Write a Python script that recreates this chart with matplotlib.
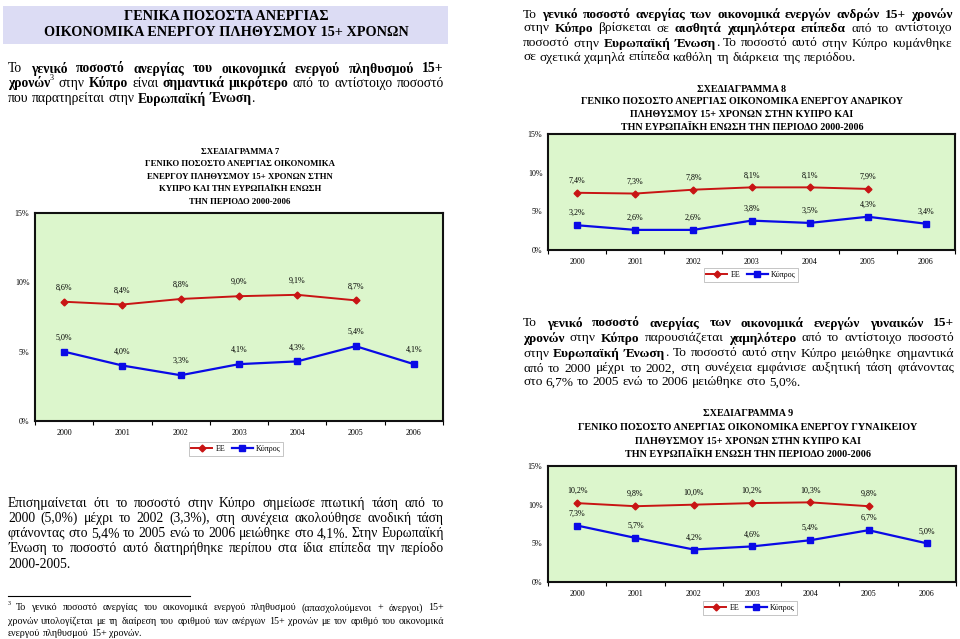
import numpy as np
import matplotlib
matplotlib.use('Agg')
import matplotlib.pyplot as plt
from matplotlib.patches import Rectangle
from matplotlib.lines import Line2D

# ---------------- data ----------------
years = ['2000', '2001', '2002', '2003', '2004', '2005', '2006']
ee_total = [8.6, 8.4, 8.8, 9.0, 9.1, 8.7]
cy_total = [5.0, 4.0, 3.3, 4.1, 4.3, 5.4, 4.1]
ee_men = [7.4, 7.3, 7.8, 8.1, 8.1, 7.9]
cy_men = [3.2, 2.6, 2.6, 3.8, 3.5, 4.3, 3.4]
ee_women = [10.2, 9.8, 10.0, 10.2, 10.3, 9.8]
cy_women = [7.3, 5.7, 4.2, 4.6, 5.4, 6.7, 5.0]
y_ticks = [0, 5, 10, 15]
series_names = ['ΕΕ', 'Κύπρος']

header_lines = ['ΓΕΝΙΚΑ ΠΟΣΟΣΤΑ ΑΝΕΡΓΙΑΣ', 'ΟΙΚΟΝΟΜΙΚΑ ΕΝΕΡΓΟΥ ΠΛΗΘΥΣΜΟΥ 15+ ΧΡΟΝΩΝ']
para_left1 = [
    'Το **γενικό ποσοστό ανεργίας του οικονομικά ενεργού πληθυσμού 15+**',
    '**χρονών**^3 στην **Κύπρο** είναι **σημαντικά μικρότερο** από το αντίστοιχο ποσοστό',
    'που παρατηρείται στην **Ευρωπαϊκή Ένωση**.',
]
title7 = ['ΣΧΕΔΙΑΓΡΑΜΜΑ 7', 'ΓΕΝΙΚΟ ΠΟΣΟΣΤΟ ΑΝΕΡΓΙΑΣ ΟΙΚΟΝΟΜΙΚΑ', 'ΕΝΕΡΓΟΥ ΠΛΗΘΥΣΜΟΥ 15+ ΧΡΟΝΩΝ ΣΤΗΝ',
          'ΚΥΠΡΟ ΚΑΙ ΤΗΝ ΕΥΡΩΠΑΪΚΗ ΕΝΩΣΗ', 'ΤΗΝ ΠΕΡΙΟΔΟ 2000-2006']
para_left2 = [
    'Επισημαίνεται ότι το ποσοστό στην Κύπρο σημείωσε πτωτική τάση από το',
    '2000 (5,0%) μέχρι το 2002 (3,3%), στη συνέχεια ακολούθησε ανοδική τάση',
    'φτάνοντας στο 5,4% το 2005 ενώ το 2006 μειώθηκε στο 4,1%. Στην Ευρωπαϊκή',
    'Ένωση το ποσοστό αυτό διατηρήθηκε περίπου στα ίδια επίπεδα την περίοδο',
    '2000-2005.',
]
footnote = [
    '^3 Το γενικό ποσοστό ανεργίας του οικονομικά ενεργού πληθυσμού (απασχολούμενοι + άνεργοι) 15+',
    'χρονών υπολογίζεται με τη διαίρεση του αριθμού των ανέργων 15+ χρονών με τον αριθμό του οικονομικά',
    'ενεργού πληθυσμού 15+ χρονών.',
]
para_right1 = [
    'Το **γενικό ποσοστό ανεργίας των οικονομικά ενεργών ανδρών 15+ χρονών**',
    'στην **Κύπρο** βρίσκεται σε **αισθητά χαμηλότερα επίπεδα** από το αντίστοιχο',
    'ποσοστό στην **Ευρωπαϊκή Ένωση**. Το ποσοστό αυτό στην Κύπρο κυμάνθηκε',
    'σε σχετικά χαμηλά επίπεδα καθόλη τη διάρκεια της περιόδου.',
]
title8 = ['ΣΧΕΔΙΑΓΡΑΜΜΑ 8', 'ΓΕΝΙΚΟ ΠΟΣΟΣΤΟ ΑΝΕΡΓΙΑΣ ΟΙΚΟΝΟΜΙΚΑ ΕΝΕΡΓΟΥ ΑΝΔΡΙΚΟΥ',
          'ΠΛΗΘΥΣΜΟΥ 15+ ΧΡΟΝΩΝ ΣΤΗΝ ΚΥΠΡΟ ΚΑΙ', 'ΤΗΝ ΕΥΡΩΠΑΪΚΗ ΕΝΩΣΗ ΤΗΝ ΠΕΡΙΟΔΟ 2000-2006']
para_right2 = [
    'Το **γενικό ποσοστό ανεργίας των οικονομικά ενεργών γυναικών 15+**',
    '**χρονών** στην **Κύπρο** παρουσιάζεται **χαμηλότερο** από το αντίστοιχο ποσοστό',
    'στην **Ευρωπαϊκή Ένωση**. Το ποσοστό αυτό στην Κύπρο μειώθηκε σημαντικά',
    'από το 2000 μέχρι το 2002, στη συνέχεια εμφάνισε αυξητική τάση φτάνοντας',
    'στο 6,7% το 2005 ενώ το 2006 μειώθηκε στο 5,0%.',
]
title9 = ['ΣΧΕΔΙΑΓΡΑΜΜΑ 9', 'ΓΕΝΙΚΟ ΠΟΣΟΣΤΟ ΑΝΕΡΓΙΑΣ ΟΙΚΟΝΟΜΙΚΑ ΕΝΕΡΓΟΥ ΓΥΝΑΙΚΕΙΟΥ',
          'ΠΛΗΘΥΣΜΟΥ 15+ ΧΡΟΝΩΝ ΣΤΗΝ ΚΥΠΡΟ ΚΑΙ', 'ΤΗΝ ΕΥΡΩΠΑΪΚΗ ΕΝΩΣΗ ΤΗΝ ΠΕΡΙΟΔΟ 2000-2006']

# ---------------- setup ----------------
W, H, DPI = 960, 639, 100
SERIF = 'Liberation Serif'
plt.rcParams['font.family'] = [SERIF, 'DejaVu Serif']
fig = plt.figure(figsize=(W / DPI, H / DPI), dpi=DPI)
fig.patch.set_facecolor('white')
renderer = fig.canvas.get_renderer()
PX = DPI / 72.0

GREEN = '#DCF6CC'
RED = '#C81414'
BLUE = '#0A0AE6'
LAV = '#DCDCF4'


def fx(x):
    return x / W


def fy(y):
    return 1 - y / H


def text_width(s, size, weight='normal'):
    t = fig.text(0, 0, s, fontsize=size, fontweight=weight)
    w = t.get_window_extent(renderer).width
    t.remove()
    return w


def parse_line(line):
    words, runs, buf = [], [], ''
    bold = False
    i = 0
    while i < len(line):
        if line.startswith('**', i):
            if buf:
                runs.append((buf, 'b' if bold else 'n'))
                buf = ''
            bold = not bold
            i += 2
            continue
        c = line[i]
        if c == '^':
            if buf:
                runs.append((buf, 'b' if bold else 'n'))
                buf = ''
            runs.append((line[i + 1], 's'))
            i += 2
            continue
        if c == ' ':
            if buf:
                runs.append((buf, 'b' if bold else 'n'))
                buf = ''
            if runs:
                words.append(runs)
                runs = []
            i += 1
            continue
        buf += c
        i += 1
    if buf:
        runs.append((buf, 'b' if bold else 'n'))
    if runs:
        words.append(runs)
    return words


def run_width(run, size):
    s, st = run
    if st == 's':
        return text_width(s, size * 0.6)
    return text_width(s, size, 'bold' if st == 'b' else 'normal')


def natural_width(line, size):
    words = parse_line(line)
    tot = sum(run_width(r, size) for w in words for r in w)
    return tot + 0.25 * size * PX * (len(words) - 1)


def fit_line(line, target, guess=10.0):
    return guess * target / natural_width(line, guess)


def draw_para(lines, x0, x1, ys, size):
    space = 0.25 * size * PX
    for k, (line, y) in enumerate(zip(lines, ys)):
        words = parse_line(line)
        widths = [[run_width(r, size) for r in w] for w in words]
        tot = sum(sum(w) for w in widths)
        last = (k == len(lines) - 1)
        if last or len(words) == 1:
            gap = space
        else:
            gap = (x1 - x0 - tot) / (len(words) - 1)
        x = x0
        for w, ws in zip(words, widths):
            for (s, st), rw in zip(w, ws):
                if st == 's':
                    fig.text(fx(x), fy(y - size * PX * 0.35), s, fontsize=size * 0.6,
                             va='center_baseline', ha='left')
                else:
                    fig.text(fx(x), fy(y), s, fontsize=size,
                             fontweight='bold' if st == 'b' else 'normal',
                             va='center_baseline', ha='left')
                x += rw
            x += gap


def draw_title(lines, xc, ys, size):
    for line, y in zip(lines, ys):
        fig.text(fx(xc), fy(y), line, fontsize=size, fontweight='bold',
                 ha='center', va='center_baseline')


def fmt(v):
    return ('%.1f%%' % v).replace('.', ',')


def chart(left, top, right, bottom, ee, cy, off, leg_xy):
    ax = fig.add_axes([fx(left), fy(bottom), (right - left) / W, (bottom - top) / H])
    ax.set_facecolor(GREEN)
    x = np.arange(len(years))
    ax.plot(x[:len(ee)], ee, color=RED, marker='D', ms=3.5, lw=1.4, label=series_names[0])
    ax.plot(x[:len(cy)], cy, color=BLUE, marker='s', ms=5, lw=1.6, label=series_names[1])
    for xi, v in zip(x, ee):
        ax.annotate(fmt(v), (xi, v), xytext=(0, off), textcoords='offset pixels',
                    ha='center', va='center', fontsize=5.8)
    for xi, v in zip(x, cy):
        ax.annotate(fmt(v), (xi, v), xytext=(0, off), textcoords='offset pixels',
                    ha='center', va='center', fontsize=5.8)
    ax.set_xlim(-0.5, len(years) - 0.5)
    ax.set_ylim(y_ticks[0], y_ticks[-1])
    ax.set_xticks(x)
    ax.set_xticklabels(years)
    ax.set_xticks(np.arange(-0.5, len(years), 1.0), minor=True)
    ax.tick_params(axis='x', which='major', length=0, pad=6, labelsize=5.8)
    ax.tick_params(axis='x', which='minor', length=3, direction='out', width=0.8)
    ax.set_yticks(y_ticks)
    ax.set_yticklabels(['%d%%' % t for t in y_ticks])
    ax.tick_params(axis='y', length=0, pad=4, labelsize=5.8)
    for s in ax.spines.values():
        s.set_linewidth(1.5)
        s.set_color('#111111')
    leg = ax.legend(loc='center', bbox_to_anchor=(fx(leg_xy[0]), fy(leg_xy[1])),
                    bbox_transform=fig.transFigure, ncol=2, fontsize=5.8, frameon=True,
                    fancybox=False, edgecolor='#AAAAAA', handlelength=2.6,
                    columnspacing=0.8, handletextpad=0.4, borderpad=0.35)
    leg.get_frame().set_linewidth(0.6)
    return ax


# ---------------- header ----------------
fig.add_artist(Rectangle((fx(3), fy(44)), 445 / W, 38 / H, transform=fig.transFigure,
                         facecolor=LAV, edgecolor='none', zorder=0))
hs = fit_line('**' + header_lines[1] + '**', 362)
draw_title(header_lines, 226, [14.5, 31.5], hs)

# ---------------- paragraphs ----------------
bs = fit_line(para_left1[2], 247)
draw_para(para_left1, 8, 444, [67, 82, 97], bs)
draw_para(para_left2, 8, 444, [502, 517, 532, 547, 563], bs)

fs = fit_line(footnote[2], 125) * 1.07
draw_para(footnote, 8, 444, [607, 620, 633], fs)
fig.add_artist(Line2D([fx(8), fx(190)], [fy(596), fy(596)], transform=fig.transFigure,
                      color='black', lw=0.8))

rs = min(bs, fit_line(para_right1[3], 332))
draw_para(para_right1, 523, 952, [13, 27, 42, 56], rs)
draw_para(para_right2, 523, 954, [322, 337, 352, 367, 381], rs)

# ---------------- chart titles ----------------
t7 = fit_line('**' + title7[1] + '**', 192)
draw_title(title7, 240, [151, 163.5, 176, 188.5, 201], t7)
t8 = fit_line('**' + title8[1] + '**', 325)
draw_title(title8, 742, [88, 100.7, 113.3, 126], t8)
t9 = fit_line('**' + title9[1] + '**', 340)
draw_title(title9, 748, [413, 426.5, 440, 453.5], t9)

# ---------------- charts ----------------
chart(35, 213, 443, 421, ee_total, cy_total, 14, (236, 449))
chart(548, 134, 955, 250, ee_men, cy_men, 12, (751, 275))
chart(548, 466, 956, 582, ee_women, cy_women, 12, (750, 608))

fig.savefig('out.png', dpi=DPI)
